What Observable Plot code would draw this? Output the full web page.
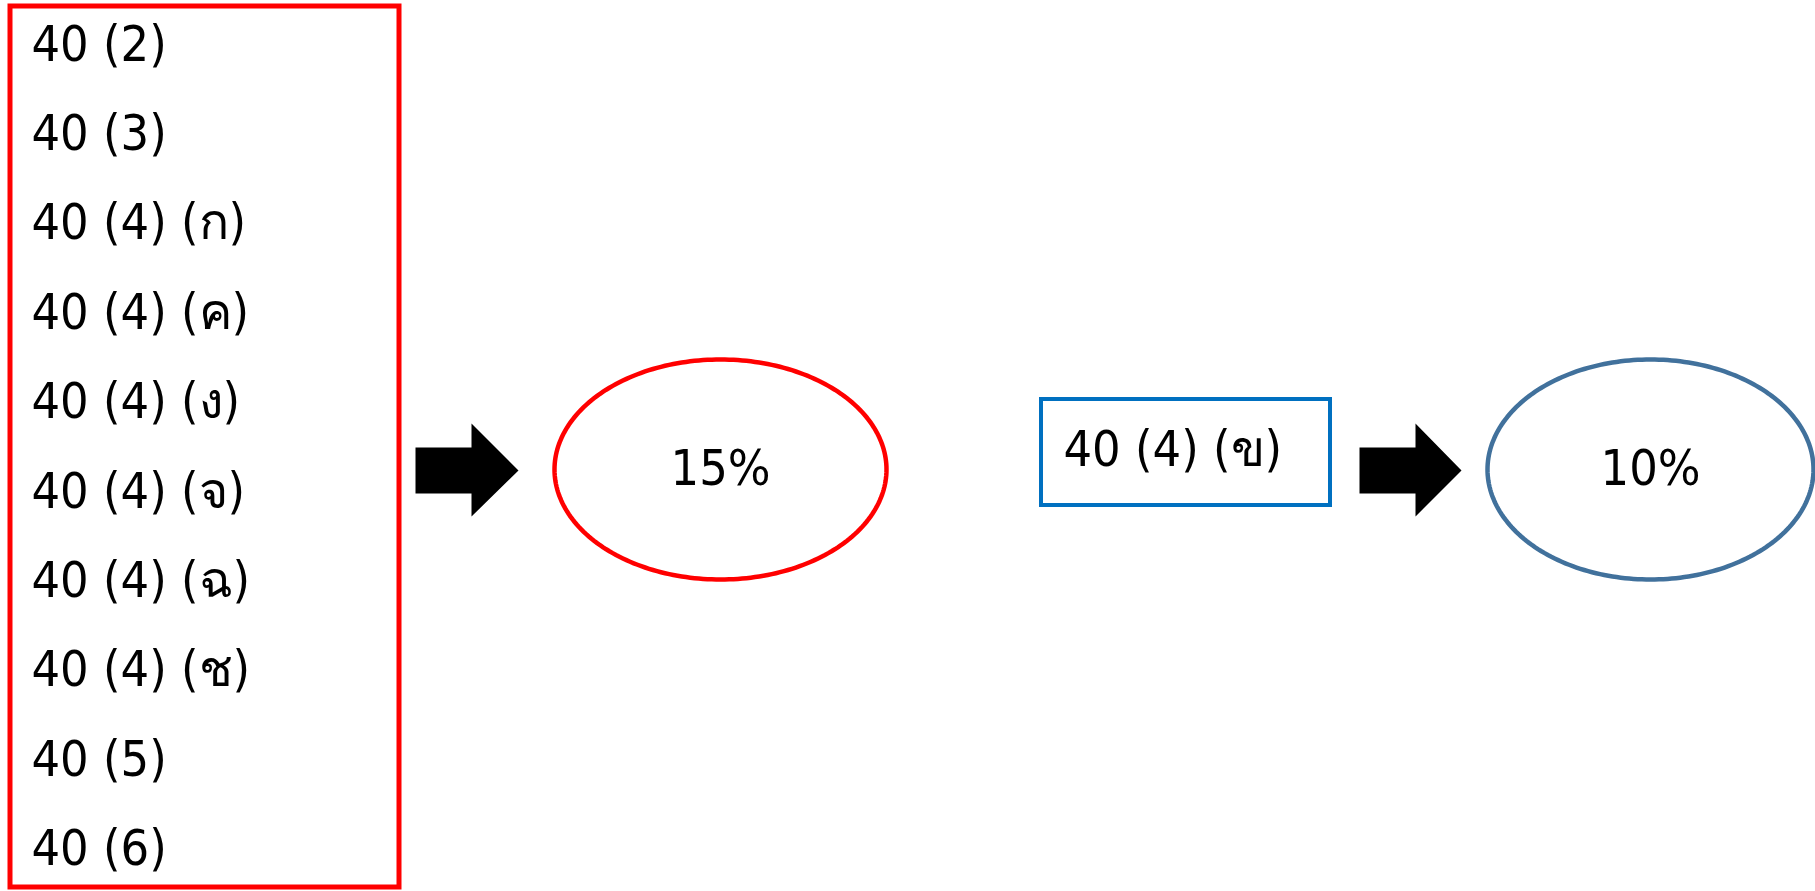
<!DOCTYPE html>
<html>
<head>
<meta charset="utf-8">
<script src="https://cdn.jsdelivr.net/npm/d3@7"></script>
<script src="https://cdn.jsdelivr.net/npm/@observablehq/plot@0.6"></script>
<style>
  html, body { margin: 0; padding: 0; background: #fff; overflow: hidden; }
</style>
</head>
<body>
<div id="chart"></div>
<script>
// ---- data ----
const groupItems = ["40 (2)", "40 (3)", "40 (4) (ก)", "40 (4) (ค)", "40 (4) (ง)", "40 (4) (จ)", "40 (4) (ฉ)", "40 (4) (ช)", "40 (5)", "40 (6)"];
const singleItem = ["40 (4) (ข)"];
const rates = ["15%", "10%"];

// ---- layout (pixel space used as scale domain) ----
const W = 1815, H = 891, FS = 50;
const listX = 31, firstBaseline = 60, lineStep = 89.4;
const midY = 470;

const itemRows = groupItems.map((label, i) => ({label, x: listX, y: firstBaseline + i * lineStep - 0.32 * FS}));
const redBox = [{x1: 10, x2: 399, y1: 6, y2: 887}];
const blueBox = [{x1: 1041, x2: 1330, y1: 399, y2: 505}];
const singleRow = singleItem.map(label => ({label, x: 1063, y: 465 - 0.32 * FS}));

const ellipses = [
  {cx: 720, cy: 469, rx: 166, ry: 110, color: "#FF0000", label: rates[0]},
  {cx: 1650, cy: 469, rx: 163, ry: 110, color: "#41719C", label: rates[1]}
];
function ellipsePts(e, k) {
  const n = 240;
  return d3.range(n + 1).map(j => {
    const t = (j / n) * 2 * Math.PI;
    return {x: e.cx + e.rx * Math.cos(t), y: e.cy + e.ry * Math.sin(t), k};
  });
}
const ellipsePoints = ellipses.flatMap((e, k) => ellipsePts(e, k));

function arrowPts(x0, xh, xt, k) {
  return [
    {x: x0, y: 447}, {x: xh, y: 447}, {x: xh, y: 423}, {x: xt, y: midY},
    {x: xh, y: 516}, {x: xh, y: 493}, {x: x0, y: 493}, {x: x0, y: 447}
  ].map(p => ({...p, k}));
}
const arrowPoints = [...arrowPts(415, 471, 518, 0), ...arrowPts(1359, 1415, 1461, 1)];

const chart = Plot.plot({
  width: W,
  height: H,
  margin: 0,
  x: {domain: [0, W], axis: null},
  y: {domain: [0, H], reverse: true, axis: null},
  style: {fontFamily: "'DejaVu Sans Condensed', 'DejaVu Sans', sans-serif", fontStretch: "condensed", background: "#fff", overflow: "visible"},
  marks: [
    Plot.rect(redBox, {x1: "x1", x2: "x2", y1: "y1", y2: "y2", fill: "none", stroke: "#FF0000", strokeWidth: 5}),
    Plot.rect(blueBox, {x1: "x1", x2: "x2", y1: "y1", y2: "y2", fill: "none", stroke: "#0070C0", strokeWidth: 4}),
    Plot.line(arrowPoints, {x: "x", y: "y", z: "k", fill: "#000", stroke: "none", curve: "linear"}),
    Plot.line(ellipsePoints, {x: "x", y: "y", z: "k", stroke: d => ellipses[d.k].color, strokeWidth: 4.5, curve: "linear"}),
    Plot.text(itemRows, {x: "x", y: "y", text: "label", textAnchor: "start", fontSize: FS, fill: "#000"}),
    Plot.text(singleRow, {x: "x", y: "y", text: "label", textAnchor: "start", fontSize: FS, fill: "#000"}),
    Plot.text(ellipses, {x: "cx", y: d => 484 - 0.32 * FS, text: "label", textAnchor: "middle", fontSize: FS, fill: "#000"})
  ]
});
document.getElementById("chart").appendChild(chart);
</script>
</body>
</html>
